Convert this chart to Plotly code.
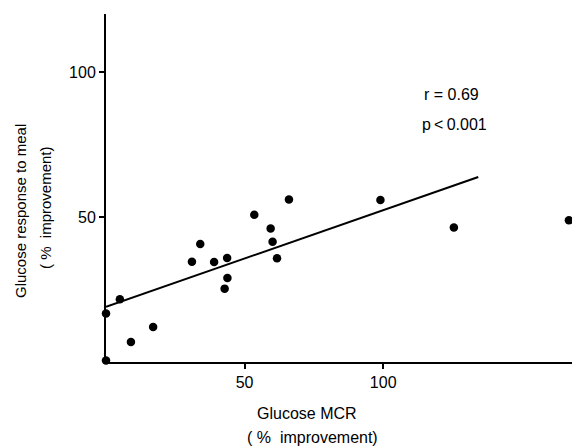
import plotly.graph_objects as go

mcr = [0, 0, 5, 9, 17, 31, 34, 39, 43.7, 43.8, 42.8, 53.5, 59.4, 60.1, 61.7, 66, 99, 125.5, 167]
response = [0.5, 16.7, 21.6, 6.9, 12.1, 34.6, 40.7, 34.5, 35.9, 29.0, 25.3, 50.8, 46.0, 41.5, 35.8, 56.0, 55.9, 46.4, 48.9]
fit_x = [0, 134.3]
fit_y = [19.0, 63.8]
x_ticks = [50, 100]
y_ticks = [50, 100]

# page body adds an 8px offset; work in window pixels and subtract it
OFF = 8
W, H = 580 - OFF, 447 - OFF
L, R, T, B = 106 - OFF, 0, 14 - OFF, 85
pw, ph = W - L - R, H - T - B

def px(x):
    return (x - OFF - L) / pw

def py(y):
    return (H - B - (y - OFF)) / ph

FONT = "Liberation Sans, Arial, Helvetica, sans-serif"

fig = go.Figure()
fig.add_trace(go.Scatter(x=fit_x, y=fit_y, mode="lines",
                         line=dict(color="black", width=2), showlegend=False))
fig.add_trace(go.Scatter(x=mcr, y=response, mode="markers",
                         marker=dict(color="black", size=8.5), showlegend=False,
                         cliponaxis=False))

fig.update_layout(
    width=W, height=H,
    margin=dict(l=L, r=R, t=T, b=B),
    paper_bgcolor="white", plot_bgcolor="white",
    font=dict(family=FONT, size=16, color="black"),
    xaxis=dict(range=[0, 171], tickvals=x_ticks, showgrid=False, zeroline=False,
               showline=True, linecolor="black", linewidth=2,
               ticks="outside", ticklen=5, tickwidth=1.5, tickcolor="black"),
    yaxis=dict(range=[0, 120], tickvals=y_ticks, showgrid=False, zeroline=False,
               showline=True, linecolor="black", linewidth=2,
               ticks="outside", ticklen=5, tickwidth=1.5, tickcolor="black"),
)

impr = "(\u00a0%\u00a0 improvement)"
ann = [
    ("r = 0.69", 451, 95, 0, 16),
    ("p\u2009<\u20090.001", 454, 124, 0, 16),
    ("Glucose MCR", 307, 413, 0, 16),
    (impr, 312, 437, 0, 16),
    ("Glucose response to meal", 20, 211, -90, 15),
    (impr, 45, 207, -90, 15),
]
for text, x, y, ang, fs in ann:
    fig.add_annotation(text=text, x=px(x), y=py(y), xref="paper", yref="paper",
                       showarrow=False, textangle=ang, xanchor="center", yanchor="middle",
                       font=dict(family=FONT, size=fs, color="black"))

fig.write_html("out.html")
